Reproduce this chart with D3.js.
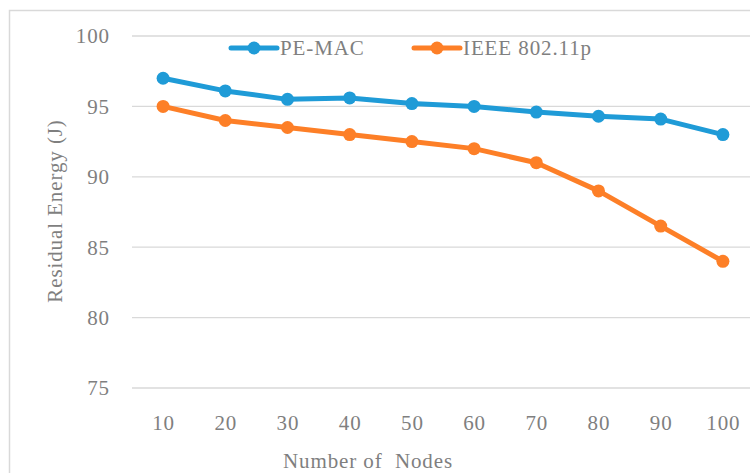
<!DOCTYPE html>
<html><head><meta charset="utf-8">
<script src="https://cdn.jsdelivr.net/npm/d3@7"></script>
<style>body{margin:0;background:#fff}svg{display:block}text{font-family:"Liberation Serif","DejaVu Serif",serif;fill:#7f7f7f;letter-spacing:0.9px}</style>
</head><body><svg id="c" width="750" height="473"></svg>
<script>
const categories = [10,20,30,40,50,60,70,80,90,100];
const peMac = [97.0,96.1,95.5,95.6,95.2,95.0,94.6,94.3,94.1,93.0];
const ieee = [95.0,94.0,93.5,93.0,92.5,92.0,91.0,89.0,86.5,84.0];
const yTicks = [75,80,85,90,95,100];
const seriesNames = ["PE-MAC","IEEE 802.11p"];
const colors = ["#1f9bd7","#fd7f27"];

const svg = d3.select("#c");
svg.append("rect").attr("x",9.5).attr("y",10.5).attr("width",760).attr("height",480)
  .attr("fill","#fff").attr("stroke","#d9d9d9").attr("stroke-width",1.5);

const x = d3.scalePoint().domain(categories).range([132,754]).padding(0.5);
const y = d3.scaleLinear().domain([75,100]).range([388,36]);

const g = svg.append("g");
g.selectAll("line.grid").data(yTicks).join("line")
  .attr("x1",132).attr("x2",754).attr("y1",d=>y(d)).attr("y2",d=>y(d))
  .attr("stroke","#d9d9d9").attr("stroke-width",1.3);

g.selectAll("text.yt").data(yTicks).join("text")
  .attr("x",110).attr("y",d=>y(d)).attr("dy","0.35em").attr("text-anchor","end")
  .attr("font-size",21).text(d=>d);
g.selectAll("text.xt").data(categories).join("text")
  .attr("x",d=>x(d)+0.5).attr("y",423).attr("dy","0.35em").attr("text-anchor","middle")
  .attr("font-size",21).text(d=>d);

g.append("text").attr("x",368).attr("y",461).attr("dy","0.35em").attr("text-anchor","middle")
  .attr("font-size",21).attr("xml:space","preserve").text("Number of  Nodes");
g.append("text").attr("transform","translate(55,211) rotate(-90)").attr("dy","0.35em")
  .attr("text-anchor","middle").attr("font-size",21).text("Residual Energy (J)");

const line = d3.line().x((d,i)=>x(categories[i])).y(d=>y(d));
[peMac, ieee].forEach((s,k)=>{
  g.append("path").datum(s).attr("d",line).attr("fill","none")
    .attr("stroke",colors[k]).attr("stroke-width",5).attr("stroke-linejoin","round");
  g.selectAll("circle.s"+k).data(s).join("circle")
    .attr("cx",(d,i)=>x(categories[i])).attr("cy",d=>y(d)).attr("r",6.5).attr("fill",colors[k]);
});

const legX = [231,414];
seriesNames.forEach((n,k)=>{
  const lg = g.append("g");
  lg.append("line").attr("x1",legX[k]).attr("x2",legX[k]+46).attr("y1",48).attr("y2",48)
    .attr("stroke",colors[k]).attr("stroke-width",5).attr("stroke-linecap","round");
  lg.append("circle").attr("cx",legX[k]+23).attr("cy",48).attr("r",6.5).attr("fill",colors[k]);
  lg.append("text").attr("x",legX[k]+49).attr("y",48).attr("dy","0.35em").attr("font-size",21).text(n);
});
</script></body></html>
